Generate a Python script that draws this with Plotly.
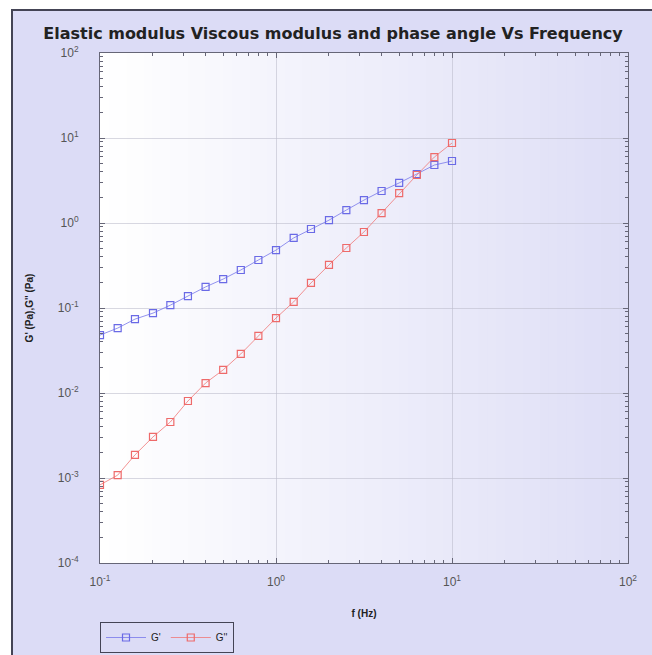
import plotly.graph_objects as go

# ---------------- data ----------------
freq = [0.1, 0.126, 0.158, 0.2, 0.251, 0.316, 0.398, 0.501, 0.631, 0.794,
        1.0, 1.26, 1.58, 2.0, 2.51, 3.16, 3.98, 5.01, 6.31, 7.94, 10.0]
g_elastic = [0.048, 0.058, 0.074, 0.087, 0.108, 0.138, 0.177, 0.219, 0.28, 0.367,
             0.48, 0.667, 0.85, 1.08, 1.42, 1.86, 2.38, 2.96, 3.77, 4.81, 5.36]
g_viscous = [0.00083, 0.00108, 0.00187, 0.00304, 0.00456, 0.00805, 0.0131, 0.0187, 0.0288, 0.0469,
             0.0762, 0.118, 0.197, 0.321, 0.508, 0.784, 1.31, 2.25, 3.67, 5.97, 8.73]
names = ["G'", "G''"]

x_ticks = [0.1, 1, 10, 100]
x_ticktext = ["10<sup>-1</sup>", "10<sup>0</sup>", "10<sup>1</sup>", "10<sup>2</sup>"]
y_ticks = [1e-4, 1e-3, 1e-2, 1e-1, 1, 10, 100]
y_ticktext = ["10<sup>-4</sup>", "10<sup>-3</sup>", "10<sup>-2</sup>", "10<sup>-1</sup>",
              "10<sup>0</sup>", "10<sup>1</sup>", "10<sup>2</sup>"]

title = "Elastic modulus Viscous modulus and phase angle Vs Frequency"
x_title = "f (Hz)"
y_title = "G' (Pa),G'' (Pa)"

# ---------------- layout geometry ----------------
W, H = 652, 655
L, R, T, B = 100, 24, 53, 92
pw, ph = W - L - R, H - T - B


def px(xp):
    return (xp - L) / pw


def py(yp):
    return (H - B - yp) / ph


minor_x = [m * 10 ** e for e in (-1, 0, 1) for m in range(2, 10)]
minor_y = [m * 10 ** e for e in (-4, -3, -2, -1, 0, 1) for m in range(2, 10)]

fig = go.Figure()
colors = ["#6a6ae6", "#ee6a6a"]
line_colors = ["rgba(120,120,235,0.8)", "rgba(240,120,120,0.8)"]
for ys, nm, c, lc in zip([g_elastic, g_viscous], names, colors, line_colors):
    fig.add_trace(go.Scatter(
        x=freq, y=ys, name=nm, mode="lines+markers",
        line=dict(color=lc, width=1),
        marker=dict(symbol="square-open", size=7, color=c, line=dict(width=1.2, color=c)),
    ))

# background frame and gradient
shapes = [dict(type="rect", xref="paper", yref="paper",
               x0=px(12), x1=px(W + 20), y0=py(H + 20), y1=py(10),
               fillcolor="#dcdcf6", line=dict(color="#444455", width=2), layer="below")]
n = 60
c0 = (255, 255, 255)
c1 = (222, 222, 246)
for i in range(n):
    t = (i + 0.5) / n
    col = tuple(int(round(a + (b - a) * t)) for a, b in zip(c0, c1))
    shapes.append(dict(type="rect", xref="paper", yref="paper",
                       x0=i / n, x1=(i + 1) / n + 0.002, y0=0, y1=1,
                       fillcolor="rgb(%d,%d,%d)" % col, line=dict(width=0), layer="below"))

axis_common = dict(
    type="log", showline=True, linecolor="#666677", linewidth=1, mirror="allticks",
    ticks="inside", ticklen=5, tickcolor="#666677",
    showgrid=True, gridcolor="rgba(190,190,205,0.6)", gridwidth=1,
    zeroline=False, tickfont=dict(family="Liberation Sans, Arial", size=12, color="#555555"),
)

fig.update_layout(
    width=W, height=H,
    margin=dict(l=L, r=R, t=T, b=B, autoexpand=False),
    paper_bgcolor="white", plot_bgcolor="rgba(0,0,0,0)",
    shapes=shapes,
    title=dict(text="<b>%s</b>" % title, x=333 / W, xanchor="center",
               y=1 - 33 / H, yanchor="middle",
               font=dict(family="DejaVu Sans", size=16, color="#222222")),
    xaxis=dict(axis_common, range=[-1, 2], tickvals=x_ticks, ticktext=x_ticktext,
               ticklabelstandoff=8,
               minor=dict(tickvals=minor_x, ticks="inside", ticklen=3, tickcolor="#666677", showgrid=False),
               title=dict(text="<b>%s</b>" % x_title, standoff=21,
                          font=dict(family="Liberation Sans, Arial", size=10, color="#222222"))),
    yaxis=dict(axis_common, range=[-4, 2], tickvals=y_ticks, ticktext=y_ticktext,
               ticklabelstandoff=18,
               minor=dict(tickvals=minor_y, ticks="inside", ticklen=3, tickcolor="#666677", showgrid=False),
               title=dict(text="<b>%s</b>" % y_title, standoff=22,
                          font=dict(family="Liberation Sans, Arial", size=10, color="#222222"))),
    legend=dict(orientation="h", x=0, y=py(622), xanchor="left", yanchor="top",
                bgcolor="#dcdcf6", bordercolor="#444455", borderwidth=1,
                font=dict(family="Liberation Sans, Arial", size=10, color="#222222"),
                itemwidth=40, tracegroupgap=0),
    showlegend=True,
)

fig.write_html("out.html")
